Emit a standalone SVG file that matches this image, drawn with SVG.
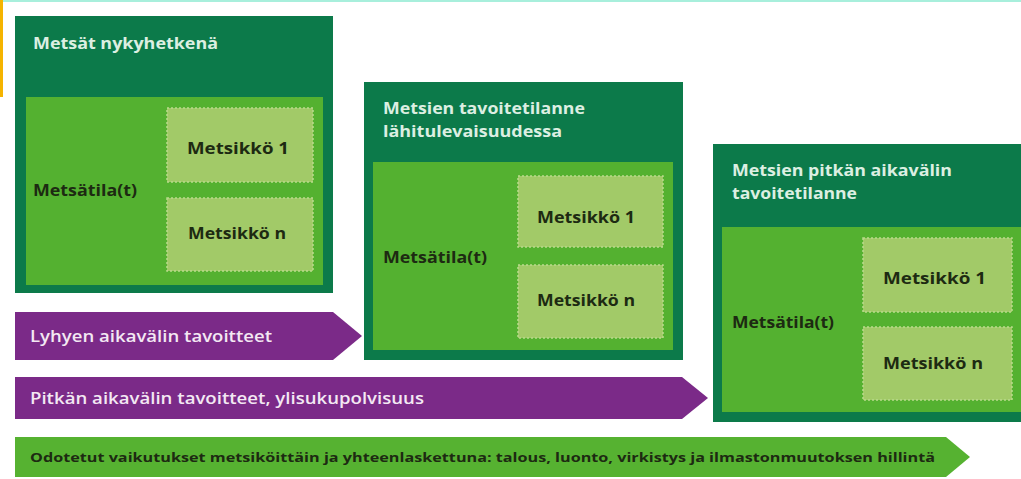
<svg xmlns="http://www.w3.org/2000/svg" width="1021" height="479" viewBox="0 0 1021 479">
<style>
.outer{fill:#0c7a4a}
.inner{fill:#54b130}
.sub{fill:#a2ca68;stroke:#b9da8c;stroke-width:1.5;stroke-dasharray:2 2}
.title{font-family:"Open Sans","DejaVu Sans",sans-serif;font-weight:700;font-size:16px;fill:#dcefe2}
.lbl{font-family:"Open Sans","DejaVu Sans",sans-serif;font-weight:700;font-size:16px;fill:#1d2a12}
.sublbl{font-family:"Open Sans","DejaVu Sans",sans-serif;font-weight:700;font-size:16px;fill:#1d2a12}
.purple{fill:#7b2a88}
.ptext{font-family:"Open Sans","DejaVu Sans",sans-serif;font-weight:600;font-size:16.5px;fill:#f3e8f3}
.garrow{fill:#56b231}
.gtext{font-family:"Open Sans","DejaVu Sans",sans-serif;font-weight:700;font-size:13px;fill:#1d2a12}
</style>
<rect x="0" y="0" width="1021" height="479" fill="#ffffff"/>
<rect x="0" y="0" width="1021" height="2" fill="#a8efdc"/>
<rect x="0" y="0" width="3" height="97" fill="#f5b400"/>

<g id="node-nykyhetkena">
<rect class="outer" x="15" y="16" width="318" height="277"/>
<text class="title" x="33" y="49" textLength="185" lengthAdjust="spacingAndGlyphs">Metsät nykyhetkenä</text>
<rect class="inner" x="26" y="97" width="297" height="188"/>
<text class="lbl" x="33" y="196" textLength="104" lengthAdjust="spacingAndGlyphs">Metsätila(t)</text>
<rect class="sub" x="167" y="108" width="146" height="74"/>
<text class="sublbl" x="187" y="154" textLength="102" lengthAdjust="spacingAndGlyphs">Metsikkö 1</text>
<rect class="sub" x="167" y="198" width="146" height="73"/>
<text class="sublbl" x="188" y="239" textLength="98" lengthAdjust="spacingAndGlyphs">Metsikkö n</text>
</g>

<g id="node-lahitulevaisuus">
<rect class="outer" x="364" y="82" width="319" height="278"/>
<text class="title" x="383" y="114" textLength="202" lengthAdjust="spacingAndGlyphs">Metsien tavoitetilanne</text>
<text class="title" x="383" y="137" textLength="179" lengthAdjust="spacingAndGlyphs">lähitulevaisuudessa</text>
<rect class="inner" x="373" y="162" width="300" height="188"/>
<text class="lbl" x="383" y="263" textLength="104" lengthAdjust="spacingAndGlyphs">Metsätila(t)</text>
<rect class="sub" x="518" y="176" width="145" height="71"/>
<text class="sublbl" x="537" y="223" textLength="98" lengthAdjust="spacingAndGlyphs">Metsikkö 1</text>
<rect class="sub" x="518" y="265" width="145" height="73"/>
<text class="sublbl" x="537" y="306" textLength="98" lengthAdjust="spacingAndGlyphs">Metsikkö n</text>
</g>

<g id="node-pitka-aikavali">
<rect class="outer" x="713" y="144" width="320" height="278"/>
<text class="title" x="732" y="176" textLength="220" lengthAdjust="spacingAndGlyphs">Metsien pitkän aikavälin</text>
<text class="title" x="732" y="199" textLength="125" lengthAdjust="spacingAndGlyphs">tavoitetilanne</text>
<rect class="inner" x="722" y="227" width="310" height="185"/>
<text class="lbl" x="732" y="328" textLength="102" lengthAdjust="spacingAndGlyphs">Metsätila(t)</text>
<rect class="sub" x="863" y="238" width="149" height="74"/>
<text class="sublbl" x="883" y="284" textLength="103" lengthAdjust="spacingAndGlyphs">Metsikkö 1</text>
<rect class="sub" x="863" y="327" width="149" height="73"/>
<text class="sublbl" x="883" y="369" textLength="100" lengthAdjust="spacingAndGlyphs">Metsikkö n</text>
</g>

<g id="connectors">
<g id="arrow-lyhyt">
<polygon class="purple" points="15,312 333,312 362,336 333,360 15,360"/>
<text class="ptext" x="30" y="342" textLength="242" lengthAdjust="spacingAndGlyphs">Lyhyen aikavälin tavoitteet</text>
</g>
<g id="arrow-pitka">
<polygon class="purple" points="15,377 682,377 708,398 682,419 15,419"/>
<text class="ptext" x="30" y="404" textLength="394" lengthAdjust="spacingAndGlyphs">Pitkän aikavälin tavoitteet, ylisukupolvisuus</text>
</g>
<g id="arrow-vaikutukset">
<polygon class="garrow" points="15,437 946,437 970,457 946,477 15,477"/>
<text class="gtext" x="30" y="462" textLength="905" lengthAdjust="spacingAndGlyphs">Odotetut vaikutukset metsiköittäin ja yhteenlaskettuna: talous, luonto, virkistys ja ilmastonmuutoksen hillintä</text>
</g>
</g>
</svg>
